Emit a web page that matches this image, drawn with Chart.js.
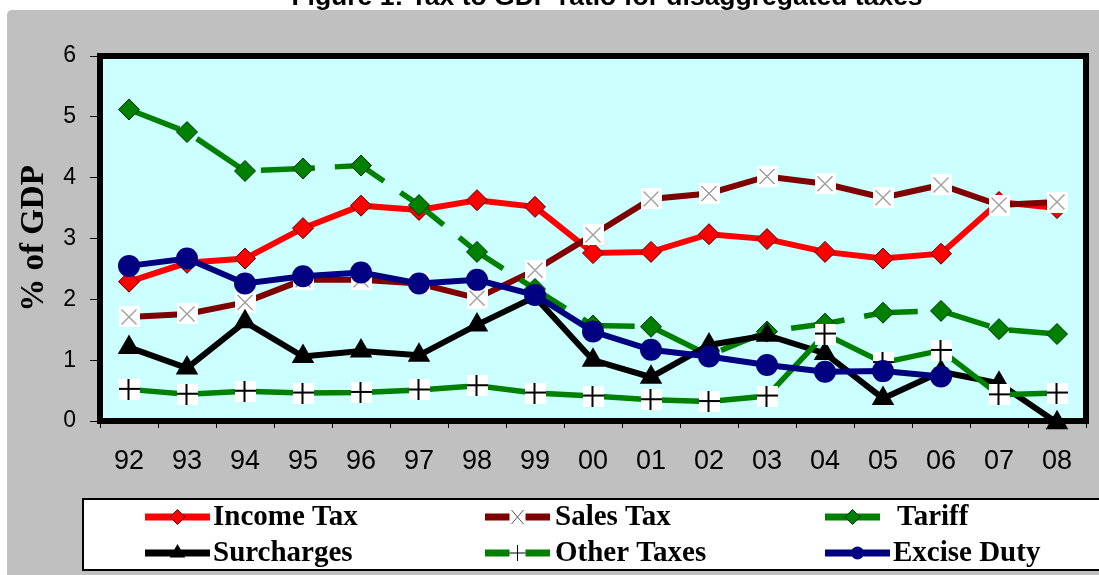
<!DOCTYPE html>
<html><head><meta charset="utf-8">
<script src="https://cdn.jsdelivr.net/npm/chart.js@4.4.1/dist/chart.umd.min.js"></script>
<style>html,body{margin:0;padding:0;background:#fff;overflow:hidden}#wrap{position:relative;width:1099px;height:575px}</style>
</head><body><div id="wrap"><canvas id="c" width="1099" height="575"></canvas></div>
<script>
const years = ['92','93','94','95','96','97','98','99','00','01','02','03','04','05','06','07','08'];
const incomeTax  = [2.29, 2.60, 2.67, 3.17, 3.54, 3.47, 3.63, 3.52, 2.76, 2.78, 3.07, 2.99, 2.78, 2.67, 2.75, 3.60, 3.50];
const salesTax   = [1.71, 1.76, 1.95, 2.32, 2.32, 2.26, 2.02, 2.48, 3.06, 3.65, 3.74, 4.02, 3.90, 3.67, 3.88, 3.55, 3.60];
const tariff     = [5.12, 4.75, 4.11, 4.15, 4.20, 3.55, 2.78, 2.17, 1.57, 1.55, 1.08, 1.47, 1.60, 1.78, 1.81, 1.51, 1.43];
const surcharges = [1.21, 0.87, 1.63, 1.06, 1.15, 1.08, 1.58, 2.04, 1.00, 0.72, 1.25, 1.41, 1.11, 0.37, 0.81, 0.62, -0.03];
const otherTaxes = [0.52, 0.44, 0.49, 0.46, 0.47, 0.51, 0.58, 0.46, 0.41, 0.35, 0.32, 0.41, 1.43, 0.96, 1.16, 0.43, 0.46];
const exciseDuty = [2.55, 2.67, 2.26, 2.38, 2.44, 2.26, 2.32, 2.07, 1.47, 1.17, 1.06, 0.92, 0.81, 0.82, 0.73, null, null];
const seriesNames = ['Income Tax', 'Sales Tax', 'Tariff', 'Surcharges', 'Other Taxes', 'Excise Duty'];
const yTickValues = [0, 1, 2, 3, 4, 5, 6];
const chartTitle = 'Figure 1: Tax to GDP ratio for disaggregated taxes';
const yAxisTitle = '% of GDP';

function boxMarker(kind, size) {
  const c = document.createElement('canvas');
  c.width = size; c.height = size;
  const g = c.getContext('2d');
  g.fillStyle = '#fff'; g.fillRect(0, 0, size, size);
  if (kind === 'x') {
    g.strokeStyle = '#444'; g.lineWidth = 1;
    g.beginPath();
    g.moveTo(3, 3); g.lineTo(size - 3, size - 3);
    g.moveTo(size - 3, 3); g.lineTo(3, size - 3);
    g.stroke();
  } else {
    g.fillStyle = '#000';
    const m = Math.floor(size / 2);
    g.fillRect(m - 1, 0, 2, size);
    g.fillRect(0, m - 1, size, 2);
  }
  return c;
}
const xMark = boxMarker('x', 21);
const plusMark = boxMarker('+', 21);

const seriesValues = [incomeTax, salesTax, tariff, surcharges, otherTaxes, exciseDuty];
const styles = [
  {color: '#FF0000', point: 'rectRot', r: 10.5, pb: '#500000', pw: 1, w: 6},
  {color: '#800000', point: xMark, r: 10.5, pb: '#800000', pw: 0, w: 6},
  {color: '#008000', point: 'rectRot', r: 10.5, pb: '#003000', pw: 1, w: 5.5, dash: [54, 20]},
  {color: '#000000', point: 'triangle', r: 13, pb: '#000', pw: 0, w: 6},
  {color: '#008000', point: plusMark, r: 10.5, pb: '#008000', pw: 0, w: 5.5},
  {color: '#000080', point: 'circle', r: 11, pb: '#000080', pw: 0, w: 6}
];

const datasets = seriesNames.map((name, i) => ({
  label: name,
  data: seriesValues[i],
  borderColor: styles[i].color,
  backgroundColor: styles[i].color,
  borderWidth: styles[i].w,
  borderDash: styles[i].dash || [],
  pointStyle: styles[i].point,
  pointRadius: styles[i].r,
  pointBackgroundColor: styles[i].color,
  pointBorderColor: styles[i].pb,
  pointBorderWidth: styles[i].pw,
  tension: 0,
  spanGaps: false,
  clip: false,
  order: seriesNames.length - 1 - i
}));

const legendPos = [
  {x0: 145, x1: 210, tx: 213, y: 517},
  {x0: 485, x1: 550, tx: 555, y: 517},
  {x0: 825, x1: 880, tx: 897, y: 517},
  {x0: 145, x1: 210, tx: 213, y: 553},
  {x0: 485, x1: 550, tx: 555, y: 553},
  {x0: 825, x1: 890, tx: 893, y: 553}
];
const legendMarks = [
  {style: 'rectRot', r: 7.5, border: '#500000'},
  {style: 'x'},
  {style: 'rectRot', r: 7.5, border: '#003000'},
  {style: 'triangle', r: 9},
  {style: '+'},
  {style: 'circle', r: 6.5}
];

const decor = {
  id: 'decor',
  beforeDraw(chart) {
    const {ctx, chartArea: a} = chart;
    ctx.save();
    ctx.fillStyle = '#fff';
    ctx.fillRect(0, 0, chart.width, chart.height);
    ctx.fillStyle = '#C0C0C0';
    ctx.beginPath();
    ctx.roundRect(7, 10, chart.width + 20, chart.height + 20, 5);
    ctx.fill();
    ctx.fillStyle = '#CCFFFF';
    ctx.fillRect(a.left, a.top, a.right - a.left, a.bottom - a.top);
    ctx.restore();
  },
  beforeDatasetsDraw(chart) {
    const {ctx, chartArea: a} = chart;
    ctx.save();
    ctx.strokeStyle = '#000';
    ctx.lineWidth = 6;
    ctx.strokeRect(a.left, a.top, a.right - a.left, a.bottom - a.top);
    ctx.restore();
  },
  afterDraw(chart) {
    const ctx = chart.ctx;
    ctx.save();
    // title (cut off at top, as in the reference)
    ctx.fillStyle = '#000';
    ctx.font = 'bold 26.5px "Liberation Sans", Arial, sans-serif';
    ctx.textAlign = 'center';
    ctx.textBaseline = 'alphabetic';
    ctx.fillText(chartTitle, 607, 4.5);
    // legend box
    ctx.fillStyle = '#fff';
    ctx.fillRect(83, 499, chart.width, 71);
    ctx.strokeStyle = '#000';
    ctx.lineWidth = 2;
    ctx.strokeRect(83, 499, chart.width + 10, 71);
    // legend entries
    ctx.font = 'bold 29px "Liberation Serif", "Times New Roman", serif';
    ctx.textAlign = 'left';
    ctx.textBaseline = 'middle';
    seriesNames.forEach((name, i) => {
      const p = legendPos[i], m = legendMarks[i], col = styles[i].color;
      const cx = (p.x0 + p.x1) / 2;
      ctx.strokeStyle = col;
      ctx.lineWidth = 7;
      ctx.setLineDash([]);
      ctx.beginPath();
      if (m.style === 'x' || m.style === '+') {
        ctx.moveTo(p.x0, p.y); ctx.lineTo(cx - 8, p.y);
        ctx.moveTo(cx + 8, p.y); ctx.lineTo(p.x1, p.y);
      } else {
        ctx.moveTo(p.x0, p.y); ctx.lineTo(p.x1, p.y);
      }
      ctx.stroke();
      if (m.style === 'x') {
        ctx.strokeStyle = '#555'; ctx.lineWidth = 1;
        ctx.beginPath();
        ctx.moveTo(cx - 6, p.y - 7); ctx.lineTo(cx + 6, p.y + 7);
        ctx.moveTo(cx + 6, p.y - 7); ctx.lineTo(cx - 6, p.y + 7);
        ctx.stroke();
      } else if (m.style === '+') {
        ctx.strokeStyle = '#000'; ctx.lineWidth = 1;
        ctx.beginPath();
        ctx.moveTo(cx, p.y - 8); ctx.lineTo(cx, p.y + 8);
        ctx.moveTo(cx - 8, p.y); ctx.lineTo(cx + 8, p.y);
        ctx.stroke();
      } else {
        ctx.fillStyle = col;
        ctx.strokeStyle = m.border || col;
        ctx.lineWidth = m.border ? 1 : 0;
        Chart.helpers.drawPoint(ctx, {pointStyle: m.style, radius: m.r, borderWidth: m.border ? 1 : 0, rotation: 0}, cx, p.y);
      }
      ctx.fillStyle = '#000';
      ctx.fillText(name, p.tx, p.y + 1);
    });
    ctx.restore();
  }
};

new Chart(document.getElementById('c'), {
  type: 'line',
  data: {labels: years, datasets: datasets},
  options: {
    responsive: false,
    animation: false,
    events: [],
    layout: {padding: {top: 56, right: 3, left: 0, bottom: 0}},
    plugins: {legend: {display: false}, tooltip: {enabled: false}, title: {display: false}},
    scales: {
      x: {
        type: 'category',
        offset: true,
        afterFit(s) { s.height = 154; },
        border: {display: false},
        grid: {offset: true, drawOnChartArea: false, drawTicks: true, tickLength: 7, color: '#000', lineWidth: 1},
        ticks: {color: '#000', padding: 17, maxRotation: 0, autoSkip: false,
                font: {family: '"Liberation Sans", Arial, sans-serif', size: 27}}
      },
      y: {
        min: 0, max: 6,
        afterFit(s) { s.width = 100; },
        afterBuildTicks(s) { s.ticks = yTickValues.map(v => ({value: v})); },
        border: {display: false},
        grid: {drawOnChartArea: false, drawTicks: true, tickLength: 10, color: '#000', lineWidth: 1},
        ticks: {color: '#000', padding: 14, font: {family: '"Liberation Sans", Arial, sans-serif', size: 23}},
        title: {display: true, text: yAxisTitle, color: '#000', padding: {top: 15, bottom: 0},
                font: {family: '"Liberation Serif", "Times New Roman", serif', size: 33, weight: 'bold'}}
      }
    }
  },
  plugins: [decor]
});
</script>
</body></html>
